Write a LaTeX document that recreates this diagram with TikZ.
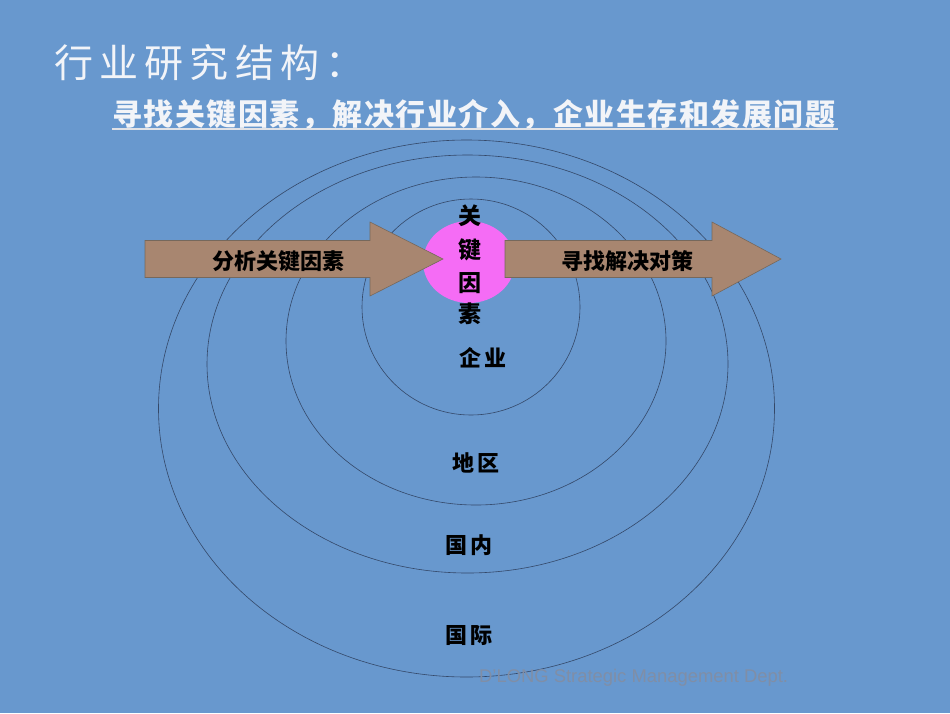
\documentclass[tikz,border=0pt]{standalone}
\usepackage{fontspec}
\setmainfont{Liberation Sans}
\newfontfamily\cjk{Noto Sans CJK SC}
\definecolor{bgblue}{RGB}{104,152,206}
\definecolor{ringcol}{RGB}{52,72,104}
\definecolor{keypink}{RGB}{245,108,245}
\definecolor{arrowfill}{RGB}{168,134,112}
\definecolor{arrowline}{RGB}{118,104,92}
\definecolor{marktext}{RGB}{128,142,166}
\definecolor{titlewhite}{RGB}{242,244,248}
\tikzset{
  ring/.style={draw=ringcol, line width=0.6pt},
  keyblob/.style={fill=keypink},
  bigarrow/.style={fill=arrowfill, draw=arrowline, line width=0.6pt},
  arrowtext/.style={inner sep=0pt, font=\cjk\bfseries\fontsize{22}{26}\selectfont},
  keychar/.style={inner sep=0pt, font=\cjk\bfseries\fontsize{23}{26}\selectfont},
  ringlabel/.style={inner sep=0pt, font=\cjk\bfseries\fontsize{22}{26}\selectfont\addfontfeatures{LetterSpace=18}},
  titletext/.style={inner sep=0pt, text=titlewhite, font=\cjk\fontsize{39}{44}\selectfont\addfontfeatures{LetterSpace=16}},
  subtext/.style={inner sep=0pt, font=\cjk\bfseries\fontsize{30}{34}\selectfont\addfontfeatures{LetterSpace=5}},
  watermark/.style={inner sep=0pt, text=marktext, font=\fontsize{18.4}{21}\selectfont}
}
\begin{document}
\begin{tikzpicture}[x=1pt,y=-1pt]
\fill[bgblue] (0,0) rectangle (950,713);
\useasboundingbox (0,0) rectangle (950,713);
% rings
\draw[ring] (466.5,408.5) ellipse [x radius=308, y radius=268.5];
\draw[ring] (467.5,364) ellipse [x radius=260.5, y radius=209];
\draw[ring] (476,341) ellipse [x radius=190, y radius=164];
\draw[ring] (471,307) ellipse [x radius=109, y radius=108];
% key factor blob
\fill[keyblob] (469,262) ellipse [x radius=46, y radius=41];
% arrows
\draw[bigarrow] (145,240.5) -- (370,240.5) -- (370,222) -- (443,259) -- (370,296) -- (370,277.5) -- (145,277.5) -- cycle;
\draw[bigarrow] (505,240.5) -- (712,240.5) -- (712,222) -- (781,259) -- (712,296) -- (712,277.5) -- (505,277.5) -- cycle;
\node[arrowtext] (analyse) at (278,261) {分析关键因素};
\node[arrowtext] (solve) at (627,261) {寻找解决对策};
% vertical key text
\node[keychar] (k1) at (470,216) {关};
\node[keychar] (k2) at (470,250) {键};
\node[keychar] (k3) at (470,283) {因};
\node[keychar] (k4) at (470,314) {素};
% ring labels
\node[ringlabel] (firm) at (483,358) {企业};
\node[ringlabel] (region) at (476,463) {地区};
\node[ringlabel] (domestic) at (469,545) {国内};
\node[ringlabel] (intl) at (469,635) {国际};
% title
\node[titletext, anchor=west] (title) at (54,63) {行业研究结构：};
\node[subtext, anchor=west, text=titlewhite] (sub) at (112,115) {寻找关键因素，解决行业介入，企业生存和发展问题};
\draw[titlewhite!85!gray, line width=2pt] (112,129) -- (838,129);
% watermark
\node[watermark, anchor=west] (mark) at (479,678) {D'LONG Strategic Management Dept.};
\end{tikzpicture}
\end{document}
